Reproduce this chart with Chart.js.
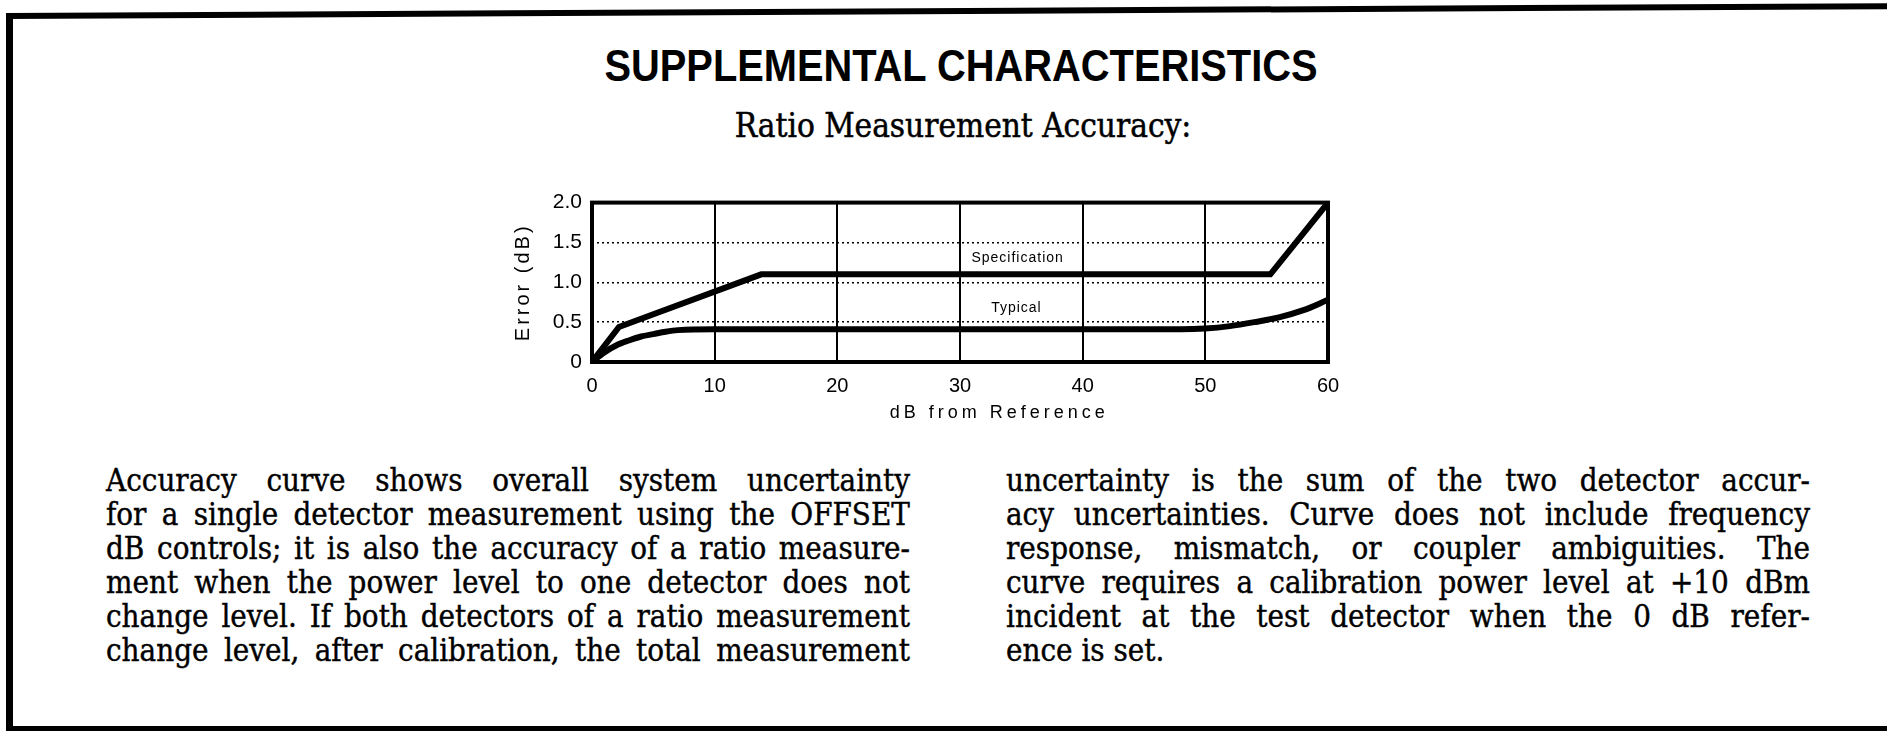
<!DOCTYPE html>
<html>
<head>
<meta charset="utf-8">
<script src="https://cdn.jsdelivr.net/npm/chart.js@4.4.1/dist/chart.umd.min.js"></script>
<style>
  html, body { margin: 0; padding: 0; background: #fff; overflow: hidden; }
  body { width: 1887px; height: 731px; position: relative; color: #000; }
  .topline { position: absolute; left: 6px; top: 13px; width: 1881px; height: 6px; background: #000; transform-origin: 0 0; transform: rotate(-0.3deg); }
  .leftline { position: absolute; left: 6px; top: 14px; width: 7px; height: 717px; background: #000; }
  .bottomline { position: absolute; left: 6px; top: 726px; width: 1881px; height: 5px; background: #000; }
  .title { position: absolute; left: 961px; top: 41px; white-space: nowrap;
           font: bold 44px "Liberation Sans", Arial, sans-serif; transform: translateX(-50%) scaleX(0.905); }
  .subtitle { position: absolute; left: 963px; top: 106px; white-space: nowrap; -webkit-text-stroke: 0.5px #000;
              font: 33px "DejaVu Serif Condensed", "DejaVu Serif", serif; transform: translateX(-50%); }
  .col { position: absolute; top: 463px; width: 804px; font-family: "DejaVu Serif Condensed", "DejaVu Serif", serif;
         -webkit-text-stroke: 0.4px #000; }
  .col .ln { display: flex; justify-content: space-between; height: 34px; line-height: 34px; white-space: nowrap; }
  .col .ln.last { justify-content: flex-start; }
  #wrap { position: absolute; left: 500px; top: 180px; width: 860px; height: 242px; }
</style>
</head>
<body>
<div class="topline"></div>
<div class="leftline"></div>
<div class="bottomline"></div>
<div class="title">SUPPLEMENTAL CHARACTERISTICS</div>
<div class="subtitle">Ratio Measurement Accuracy:</div>
<div id="wrap"><canvas id="myChart"></canvas></div>
<div class="col" id="colLeft" style="left:106px"></div>
<div class="col" id="colRight" style="left:1006px"></div>

<script>
// data
var specDb = [0, 2.2, 13.8, 55.3, 60];
var specErr = [0, 0.44, 1.1, 1.1, 2.0];

var typDb = [0, 1, 2, 3, 4, 5, 6, 7, 10, 20, 30, 40, 48, 50, 52, 54, 56, 58, 60];
var typErr = [0, 0.12, 0.21, 0.27, 0.32, 0.35, 0.38, 0.40, 0.41, 0.41, 0.41, 0.41, 0.41, 0.42, 0.45, 0.50, 0.56, 0.65, 0.78];

var xTicks = [0, 10, 20, 30, 40, 50, 60];
var yTickLabels = ['0', '0.5', '1.0', '1.5', '2.0'];

var leftLines = [
  'Accuracy curve shows overall system uncertainty',
  'for a single detector measurement using the OFFSET',
  'dB controls; it is also the accuracy of a ratio measure-',
  'ment when the power level to one detector does not',
  'change level. If both detectors of a ratio measurement',
  'change level, after calibration, the total measurement'
];
var rightLines = [
  'uncertainty is the sum of the two detector accur-',
  'acy uncertainties. Curve does not include frequency',
  'response, mismatch, or coupler ambiguities. The',
  'curve requires a calibration power level at +10 dBm',
  'incident at the test detector when the 0 dB refer-',
  'ence is set.'
];

// pick the font size so the longest line just fits the column
var BODY_FONT = '"DejaVu Serif Condensed", "DejaVu Serif", serif';
function fitSize(lines, width) {
  var c = document.createElement('canvas').getContext('2d');
  c.font = '30px ' + BODY_FONT;
  var widest = 0;
  lines.forEach(function(l) { widest = Math.max(widest, c.measureText(l).width); });
  return Math.min(31, 30 * (width - 6) / widest);
}
var bodySize = Math.min(fitSize(leftLines, 804), fitSize(rightLines, 805));

function fillColumn(el, lines, lastIsShort) {
  el.style.fontSize = bodySize + 'px';
  lines.forEach(function(line, i) {
    var div = document.createElement('div');
    div.className = 'ln' + (lastIsShort && i === lines.length - 1 ? ' last' : '');
    if (lastIsShort && i === lines.length - 1) {
      div.textContent = line;
    } else {
      line.split(' ').forEach(function(w) {
        var s = document.createElement('span');
        s.textContent = w;
        div.appendChild(s);
      });
    }
    el.appendChild(div);
  });
}
fillColumn(document.getElementById('colLeft'), leftLines, false);
fillColumn(document.getElementById('colRight'), rightLines, true);

function toPoints(xs, ys) {
  return xs.map(function(x, i) { return { x: x, y: ys[i] }; });
}

var FONT = '"Liberation Sans", Arial, sans-serif';

// frame + the little text bits inside the plot
var overlay = {
  id: 'overlay',
  afterDraw: function(chart) {
    var ctx = chart.ctx;
    var a = chart.chartArea;
    var xs = chart.scales.x, ys = chart.scales.y;
    ctx.save();
    ctx.strokeStyle = '#000';
    ctx.lineWidth = 4;
    ctx.strokeRect(a.left, a.top, a.right - a.left, a.bottom - a.top);

    ctx.fillStyle = '#000';
    ctx.textAlign = 'center';
    ctx.textBaseline = 'middle';

    ctx.font = '14px ' + FONT;
    ctx.letterSpacing = '1px';
    ctx.fillText('Specification', xs.getPixelForValue(34.7), ys.getPixelForValue(1.3));
    ctx.fillText('Typical', xs.getPixelForValue(34.6), ys.getPixelForValue(0.67));

    ctx.font = '18px ' + FONT;
    ctx.letterSpacing = '4px';
    ctx.fillText('dB from Reference', xs.getPixelForValue(33.2), a.bottom + 51);

    ctx.font = '20px ' + FONT;
    ctx.letterSpacing = '3px';
    ctx.translate(a.left - 69, (a.top + a.bottom) / 2);
    ctx.rotate(-Math.PI / 2);
    ctx.fillText('Error (dB)', 0, 0);
    ctx.restore();
  }
};

var ctx = document.getElementById('myChart');
var myChart = new Chart(ctx, {
  type: 'line',
  data: {
    datasets: [{
      label: 'Specification',
      data: toPoints(specDb, specErr),
      borderColor: '#000',
      borderWidth: 6,
      pointRadius: 0,
      tension: 0
    },
    {
      label: 'Typical',
      data: toPoints(typDb, typErr),
      borderColor: '#000',
      borderWidth: 6,
      pointRadius: 0,
      cubicInterpolationMode: 'monotone'
    }]
  },
  options: {
    responsive: true,
    maintainAspectRatio: false,
    animation: false,
    layout: { padding: { left: 32, right: 32, top: 16, bottom: 0 } },
    plugins: {
      legend: { display: false },
      tooltip: { enabled: false }
    },
    scales: {
      x: {
        type: 'linear',
        min: 0,
        max: 60,
        afterFit: function(s) { s.height = 60; },
        afterBuildTicks: function(s) { s.ticks = xTicks.map(function(v) { return { value: v }; }); },
        ticks: { color: '#000', padding: 12, font: { family: FONT, size: 20 } },
        grid: { color: '#000', lineWidth: 2, drawTicks: false },
        border: { display: false }
      },
      y: {
        min: 0,
        max: 2,
        afterFit: function(s) { s.width = 60; },
        ticks: {
          stepSize: 0.5,
          color: '#000',
          padding: 10,
          font: { family: FONT, size: 21 },
          callback: function(v, i) { return yTickLabels[i]; }
        },
        grid: { color: '#000', lineWidth: 1.5, drawTicks: false },
        border: { display: false, dash: [2, 3] }
      }
    }
  },
  plugins: [overlay]
});
</script>
</body>
</html>
